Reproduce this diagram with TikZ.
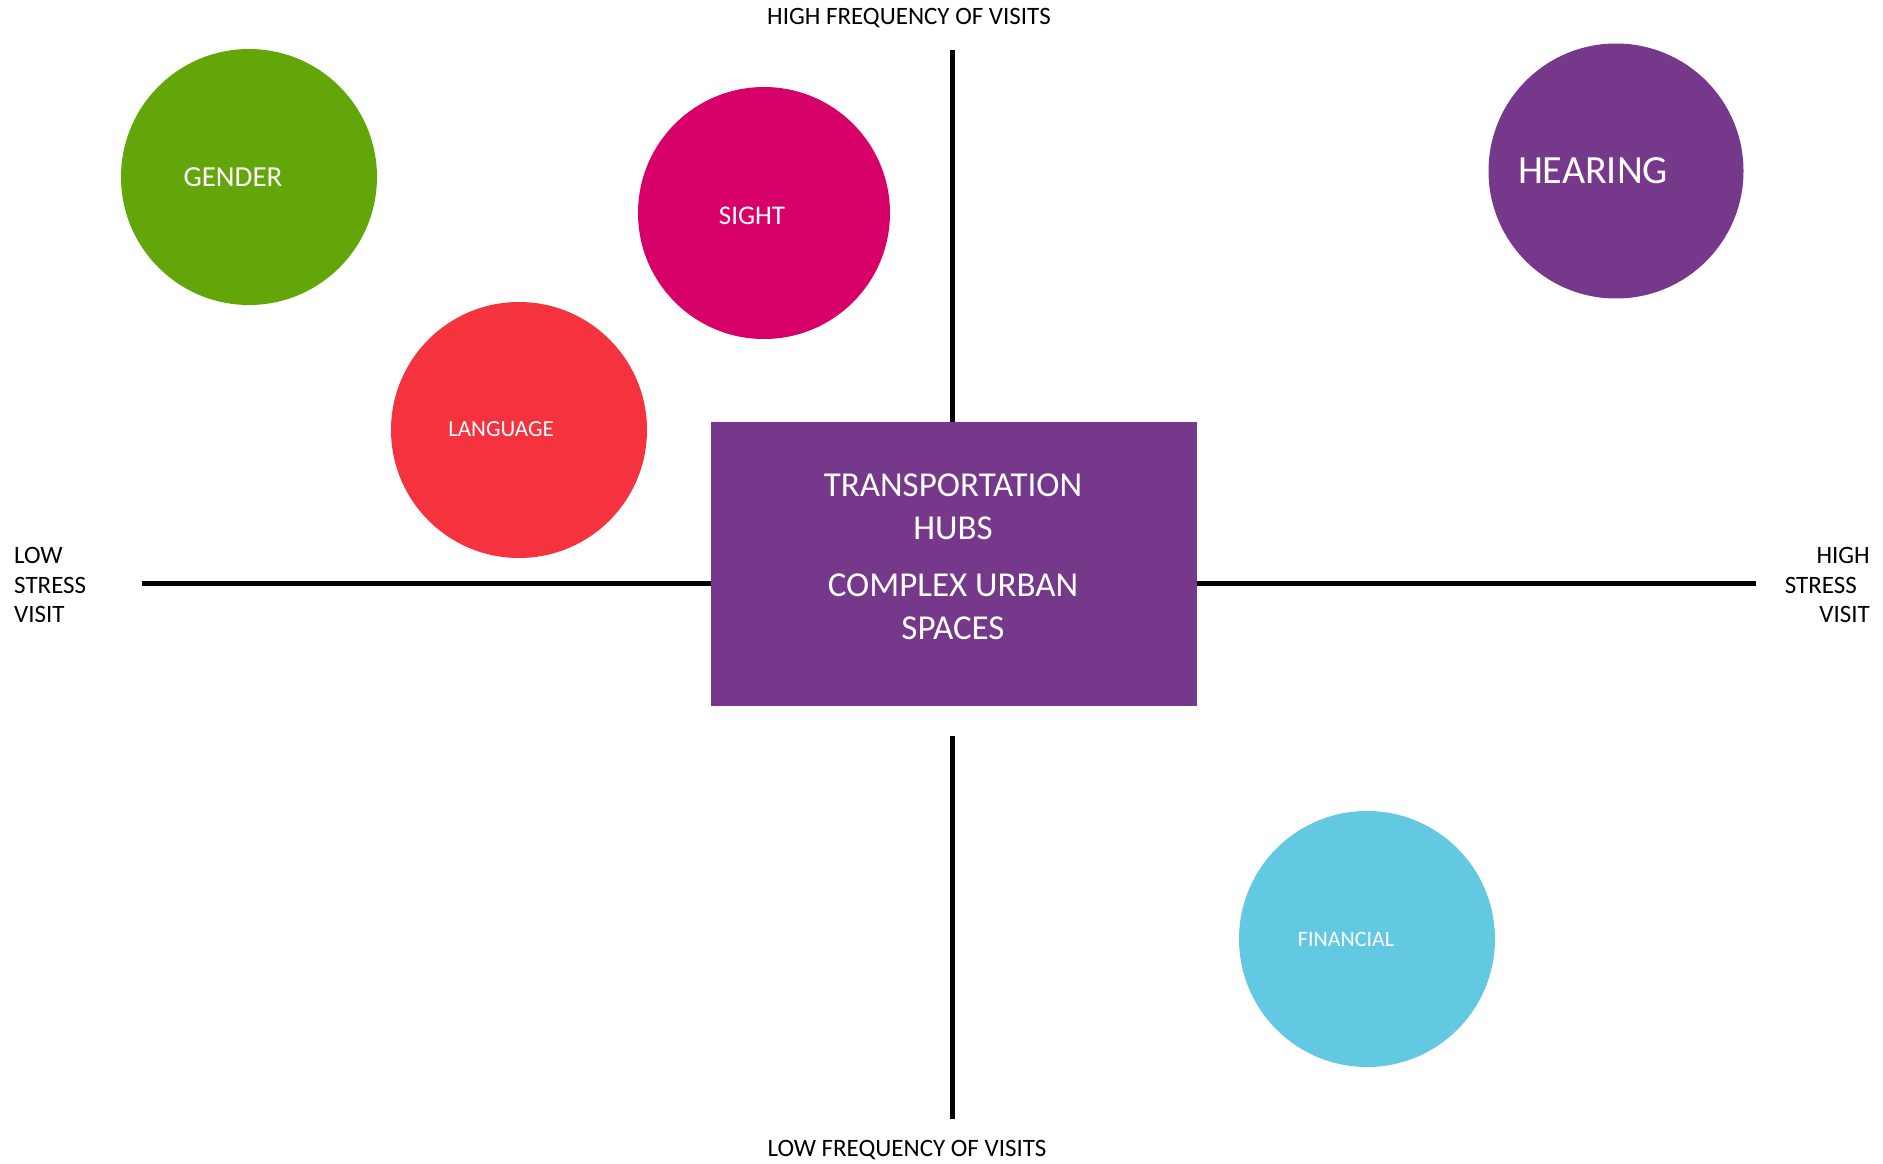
\documentclass[tikz,border=0pt]{standalone}
\usepackage{fontspec}
\setmainfont{Carlito}
\definecolor{cgreen}{RGB}{99,166,10}
\definecolor{cpink}{RGB}{215,0,104}
\definecolor{cred}{RGB}{245,51,63}
\definecolor{cpurple}{RGB}{118,56,138}
\definecolor{ccyan}{RGB}{99,201,227}
\begin{document}
\begin{tikzpicture}[x=1pt,y=-1pt,
  axis/.style={line width=5pt,black},
  bubble/.style={circle,inner sep=0pt,minimum size=256pt,text=white},
  axislabel/.style={font=\fontsize{25}{29.5}\selectfont,inner sep=0pt}]
\useasboundingbox (0,0) rectangle (1883,1164);
% quadrant axes
\coordinate (top) at (952,50);
\coordinate (bottom) at (952,1119);
\coordinate (left) at (142,583);
\coordinate (right) at (1756,583);
\node[fill=cpurple,minimum width=486pt,minimum height=284pt,inner sep=0pt] (hub) at (954,564) {};
\draw[axis] (top) -- (hub.north -| top);
\draw[axis] (bottom) -- (952,736);
\draw[axis] (left) -- (hub.west |- left);
\draw[axis] (right) -- (hub.east |- right);
% hub text
\node[text=white,align=center,font=\fontsize{35}{43}\selectfont,inner sep=0pt] (hubtop) at (953,507) {TRANSPORTATION\\HUBS};
\node[text=white,align=center,font=\fontsize{35}{43}\selectfont,inner sep=0pt] (hubbot) at (953,607) {COMPLEX URBAN\\SPACES};
% bubbles
\node[bubble,fill=cgreen] (gender) at (249,177) {};
\node[font=\fontsize{29}{35}\selectfont,text=white] (gendert) at (233,177) {GENDER};
\node[bubble,fill=cpink,minimum size=252pt] (sight) at (764,213) {};
\node[font=\fontsize{27}{32}\selectfont,text=white] (sightt) at (752,216) {SIGHT};
\node[bubble,fill=cred] (language) at (519,430) {};
\node[font=\fontsize{23}{28}\selectfont,text=white] (languaget) at (501,429) {LANGUAGE};
\node[bubble,fill=cpurple,minimum size=255pt] (hearing) at (1616,171) {};
\node[font=\fontsize{40}{48}\selectfont,text=white] (hearingt) at (1593,171) {HEARING};
\node[bubble,fill=ccyan] (financial) at (1367,939) {};
\node[font=\fontsize{22}{26}\selectfont,text=white] (financialt) at (1346,939) {FINANCIAL};
% axis labels
\node[axislabel] (hf) at (909,18) {HIGH FREQUENCY OF VISITS};
\node[axislabel] (lf) at (907,1150) {LOW FREQUENCY OF VISITS};
\node[axislabel,align=left,anchor=west] (ls) at (14,585) {LOW\\STRESS\\VISIT};
\node[axislabel,align=right,anchor=east] (hs) at (1870,585) {HIGH\\\mbox{STRESS\hspace{13pt}}\\VISIT};
\end{tikzpicture}
\end{document}
